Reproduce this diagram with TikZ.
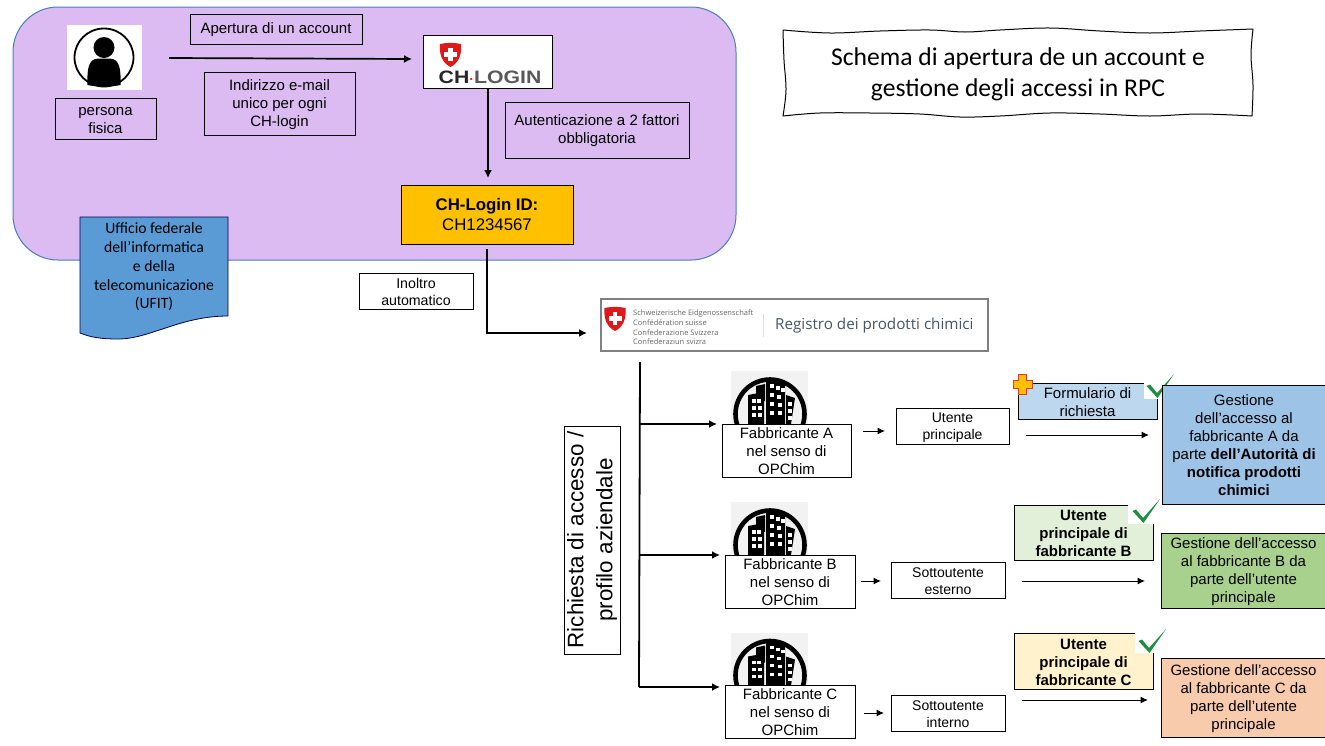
\documentclass[tikz,border=0pt]{standalone}
\usepackage{fontspec}
\usepackage{graphicx}
\setmainfont{Liberation Sans}[Ligatures=ResetAll]
\newfontfamily\carlito{Carlito}
\newfontfamily\opensans{Open Sans}
\usetikzlibrary{arrows.meta}
\definecolor{panelfill}{HTML}{DBBBF2}
\definecolor{panelline}{HTML}{4A7EBB}
\definecolor{ckgreen}{HTML}{1B8F3F}
\definecolor{docblue}{HTML}{5B9BD5}
\tikzset{
  x=1pt,y=-1pt,
  bx/.style={draw=black,line width=1pt,inner sep=0pt,align=center,
    font=\fontsize{15}{18}\selectfont},
  arr/.style={-{Latex[length=7.5pt,width=7pt]},line width=1pt,black},
  arrb/.style={-{Latex[length=8pt,width=8pt]},line width=1.7pt,black},
  trunk/.style={line width=1.8pt,black},
  plain/.style={inner sep=0pt,align=center},
}
% name, x1, y1, x2, y2, options, text
\newcommand{\bxn}[7]{%
  \pgfmathsetmacro{\cxx}{(#2+#4)/2}\pgfmathsetmacro{\cyy}{(#3+#5)/2}%
  \pgfmathsetmacro{\www}{#4-#2}\pgfmathsetmacro{\hhh}{#5-#3}%
  \node[bx,minimum width=\www pt,minimum height=\hhh pt,#6] (#1) at (\cxx,\cyy) {\rule{0pt}{12.5pt}#7};}
\newcommand{\chk}[2]{\fill[ckgreen,shift={(#1,#2)}] (-10.5,-11) -- (-7,-12.5) -- (0,-4) -- (17,-23) -- (0.5,1) -- cycle;}
\newcommand{\shld}[2]{%
  \begin{scope}[shift={(#1,#2)}]
  \fill[red!85!black!90!white] (-10.5,-11) .. controls (-4,-12.5) and (4,-12.5) .. (10.5,-11)
     .. controls (11.5,0) and (8,8) .. (0,12) .. controls (-8,8) and (-11.5,0) .. (-10.5,-11) -- cycle;
  \fill[white] (-2.2,-7) rectangle (2.2,6);
  \fill[white] (-6.5,-2.7) rectangle (6.5,1.7);
  \end{scope}}
\newcommand{\bld}[2]{%
  \begin{scope}[shift={(#1,#2)}]
  \fill[black!5] (0,0) rectangle (77,53);
  \draw[line width=4.6pt,black] (39,43) circle (34.5);
  \fill[black] (17,24) -- (33,21) -- (33,53) -- (17,53) -- cycle;
  \fill[black] (25,15) -- (34,13) -- (34,30) -- (25,30) -- cycle;
  \fill[black] (35,7) -- (54,13) -- (54,53) -- (35,53) -- cycle;
  \fill[black] (55,24) -- (64,27) -- (60,53) -- (55,53) -- cycle;
  \foreach \p in {(21,28),(26,28),(21,35),(27,35),(21,42),(27,42),(39,13),(45,15),(50,17),
     (39,22),(46,24),(39,31),(47,32),(39,40),(47,40),(57,31),(57,38),(57,45)}
     {\fill[white] \p rectangle ++(3.6,3.6);}
  \end{scope}}
\begin{document}
\begin{tikzpicture}
\useasboundingbox (0,0) rectangle (1325,745);
\fill[white] (0,0) rectangle (1325,745);
% panel
\draw[fill=panelfill,draw=panelline,line width=1pt,rounded corners=45pt] (13,7) rectangle (736,260);
% person
\fill[white] (67,25) rectangle (142,90);
\draw[line width=1.8pt,black] (104,57.5) ellipse (29.5 and 29);
\fill[black] (104,47.5) circle (10.5);
\fill[black] (87.5,85) .. controls (87,70) and (88,59) .. (98,58.5) -- (110,58.5)
   .. controls (120,59) and (121,70) .. (120.5,85) .. controls (112,87) and (96,87) .. (87.5,85) -- cycle;
\bxn{fisica}{55}{98}{156}{139}{}{persona\\fisica}
\bxn{apertura}{190}{14}{362}{44}{}{Apertura di un account}
\bxn{email}{204}{72}{355}{135}{}{Indirizzo e-mail\\unico per ogni\\CH-login}
% CH-LOGIN
\bxn{chlogin}{423}{35}{552}{88}{fill=white}{}
\shld{450.5}{55}
\node[plain] (chword) at (490,77) {\scalebox{1.18}[1]{\fontsize{18}{18}\selectfont\bfseries\textcolor{black!85}{CH}\textcolor{red}{\raisebox{0.2pt}{\fontsize{12}{12}\selectfont·}}\textcolor{black!65}{LOGIN}}};
\bxn{auth}{505}{102}{689}{158}{}{Autenticazione a 2 fattori\\obbligatoria}
\bxn{chid}{401}{185}{573}{244}{fill={rgb,255:red,255;green,192;blue,0},font=\fontsize{16.8}{20}\selectfont}{\textbf{CH-Login ID:}\\CH1234567}
% arrows in panel
\coordinate (pstart) at (169,58);
\coordinate (pend) at (412,59);
\draw[arrb] (pstart) -- (pend);
\coordinate (cl1) at (488,89);
\coordinate (cl2) at (488,178);
\draw[arrb] (cl1) -- (cl2);
% UFIT
\draw[fill=docblue,draw=black!70!blue,line width=.8pt] (80,217) -- (228,217) -- (228,316)
  .. controls (180,316) and (150,339) .. (118,339) .. controls (100,339) and (90,337) .. (80,333) -- cycle;
\node[plain,font={\carlito\fontsize{15.7}{18.7}\selectfont}] (ufit) at (154,267) {Ufficio federale\\dell’informatica\\e della\\telecomunicazione\\(UFIT)};
% Inoltro
\bxn{inoltro}{359}{273}{473}{309}{fill=white,font=\fontsize{14.2}{17}\selectfont}{Inoltro\\automatico}
% Registro
\bxn{registro}{601}{299}{988}{351}{draw=black!50,line width=1.6pt,fill=white}{}
\shld{615}{319}
\node[anchor=west,inner sep=0pt,align=left,text=black!60,font={\opensans\fontsize{7.5}{9.6}\selectfont}] (confed) at (633,327.5) {Schweizerische Eidgenossenschaft\\Confédération suisse\\Confederazione Svizzera\\Confederaziun svizra};
\draw[black!12,line width=.8pt] (763,314) -- (763,337);
\node[anchor=west,inner sep=0pt,text={rgb,255:red,70;green,85;blue,100},font={\opensans\fontsize{15.2}{18}\selectfont}] (regtxt) at (775,326) {Registro dei prodotti chimici};
\coordinate (ida) at (487,249);
\coordinate (idb) at (487,333);
\coordinate (idc) at (587,333);
\draw[trunk,-{Latex[length=8pt,width=8pt]}] (ida) -- (idb) -- (idc);
% rich
\node[bx,rotate=90,minimum width=228pt,minimum height=56pt,font=\fontsize{22.4}{29}\selectfont] (rich) at (592,540) {Richiesta di accesso /\\profilo aziendale};
% buildings
\bld{731}{371}\bld{731}{502}\bld{731}{632.5}
% trunk
\coordinate (t0) at (640,362);
\coordinate (t1) at (639,687);
\draw[trunk] (t0) -- (t1);
\coordinate (ta) at (640,424);\coordinate (tb) at (640,555);\coordinate (tc) at (639,687);
\bxn{fa}{722}{424}{851}{477}{fill=white}{Fabbricante A\\nel senso di\\OPChim}
\bxn{fb}{725}{555}{855}{608}{fill=white}{Fabbricante B\\nel senso di\\OPChim}
\bxn{fc}{725}{685}{855}{738}{fill=white}{Fabbricante C\\nel senso di\\OPChim}
\coordinate (fae) at (717,424);\coordinate (fbe) at (720,555);\coordinate (fce) at (720,687);
\draw[arrb] (ta) -- (fae);
\draw[arrb] (tb) -- (fbe);
\draw[arrb] (tc) -- (fce);
% users
\bxn{ua}{896}{408}{1009}{444}{font=\fontsize{14}{17}\selectfont}{Utente\\principale}
\bxn{ub}{891}{562}{1005}{598}{font=\fontsize{14}{17}\selectfont}{Sottoutente\\esterno}
\bxn{uc}{891}{695}{1005}{731}{font=\fontsize{14}{17}\selectfont}{Sottoutente\\interno}
\coordinate (a1) at (863,431);\coordinate (a2) at (885,431);
\coordinate (b1) at (861,581);\coordinate (b2) at (881,581);
\coordinate (c1) at (864,713);\coordinate (c2) at (884,713);
\draw[arr] (a1) -- (a2);
\draw[arr] (b1) -- (b2);
\draw[arr] (c1) -- (c2);
% request boxes
\bxn{forma}{1018}{383}{1157}{419}{fill={rgb,255:red,189;green,215;blue,238}}{Formulario di\\richiesta}
\fill[white] (1144,380) rectangle (1165,399);
\chk{1157}{397}
\draw[fill={rgb,255:red,255;green,192;blue,0},draw={rgb,255:red,220;green,60;blue,40},line width=1pt]
  (1018,374.5) -- (1026,374.5) -- (1026,380.5) -- (1032,380.5) -- (1032,388) -- (1026,388) -- (1026,394) -- (1018,394) -- (1018,388) -- (1013,388) -- (1013,380.5) -- (1018,380.5) -- cycle;
\bxn{formb}{1014}{505}{1153}{560}{fill={rgb,255:red,226;green,240;blue,217},font=\fontsize{15}{18}\selectfont\bfseries}{Utente\\principale di\\fabbricante B}
\fill[white] (1128,503) rectangle (1160,524);
\chk{1143}{522}
\bxn{formc}{1014}{633}{1153}{689}{fill={rgb,255:red,255;green,242;blue,204},font=\fontsize{15}{18}\selectfont\bfseries}{Utente\\principale di\\fabbricante C}
\fill[white] (1135,631) rectangle (1170,653);
\chk{1149}{652}
% gestione
\bxn{ga}{1162}{385}{1326}{504}{fill={rgb,255:red,157;green,195;blue,230}}{Gestione\\dell\char39 accesso al\\fabbricante A da\\parte \textbf{dell\char39 Autorità di}\\\textbf{notifica prodotti}\\\textbf{chimici}}
\bxn{gb}{1161}{533}{1326}{608}{fill={rgb,255:red,169;green,209;blue,142}}{Gestione dell\char39 accesso\\al fabbricante B da\\parte dell’utente\\principale}
\bxn{gc}{1161}{658}{1326}{737}{fill={rgb,255:red,248;green,203;blue,173}}{Gestione dell\char39 accesso\\al fabbricante C da\\parte dell’utente\\principale}
\coordinate (d1) at (1026,435);\coordinate (d2) at (1149,435);
\coordinate (e1) at (1022,581);\coordinate (e2) at (1145,581);
\coordinate (f1) at (1022,700);\coordinate (f2) at (1148,700);
\draw[arr] (d1) -- (d2);
\draw[arr] (e1) -- (e2);
\draw[arr] (f1) -- (f2);
% title
\draw[fill=white,line width=1pt,line join=round] plot[smooth,tension=.6] coordinates {(783,30)(830,33)(880,31)(930,30)(965,32)(1000,30)(1050,28)(1100,31)(1150,33)(1200,31)(1253,29)}
  -- plot[smooth,tension=.6] coordinates {(1253,29)(1251,55)(1253,85)(1252,116)}
  -- plot[smooth,tension=.6] coordinates {(1252,116)(1200,114)(1150,116)(1100,114)(1050,113)(1000,116)(960,117)(920,114)(870,113)(820,113)(783,116)}
  -- plot[smooth,tension=.6] coordinates {(783,116)(786,90)(784,60)(783,30)} -- cycle;
\node[plain,font={\carlito\fontsize{25.6}{31}\selectfont}] (title) at (1018,74.5) {Schema di apertura de un account e\\gestione degli accessi in RPC};
\end{tikzpicture}
\end{document}
